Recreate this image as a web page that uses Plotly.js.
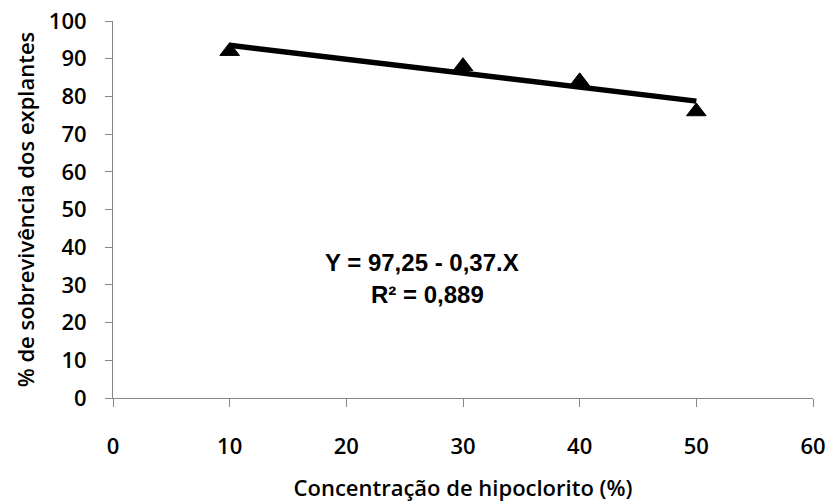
<!DOCTYPE html>
<html>
<head>
<meta charset="utf-8">
<script src="https://cdn.plot.ly/plotly-3.0.1.min.js"></script>
<style>html,body{margin:0;padding:0;background:#fff;}#chart{width:828px;height:502px;}</style>
</head>
<body>
<div id="chart"></div>
<script>
// Data
var concentration = [10, 30, 40, 50];
var survival = [92, 88, 84, 76];
// Fitted trend line (Y = 97,25 - 0,37.X) end points
var trendX = [10, 50];
var trendY = [93.55, 78.75];
var xTicks = [0, 10, 20, 30, 40, 50, 60];
var yTicks = [0, 10, 20, 30, 40, 50, 60, 70, 80, 90, 100];
var equationText = "Y = 97,25 - 0,37.X";
var r2Text = "R² = 0,889";

var tickFont = {family: "Open Sans, Arial, sans-serif", size: 22, color: "#000", weight: 600};
var titleFont = {family: "Open Sans, Arial, sans-serif", size: 22, color: "#000", weight: 600};

var traces = [
  {
    x: concentration, y: survival, type: "scatter", mode: "markers",
    marker: {symbol: "triangle-up", size: 17, color: "#000", line: {color: "#000", width: 1}},
    showlegend: false, hoverinfo: "skip"
  },
  {
    x: trendX, y: trendY, type: "scatter", mode: "lines",
    line: {color: "#000", width: 5.5},
    showlegend: false, hoverinfo: "skip"
  }
];

var layout = {
  width: 828, height: 502,
  margin: {l: 113, r: 15, t: 21, b: 104},
  paper_bgcolor: "#fff", plot_bgcolor: "#fff",
  showlegend: false,
  xaxis: {
    range: [0, 60], tickvals: xTicks, ticktext: xTicks.map(String),
    showgrid: false, zeroline: false,
    showline: true, linecolor: "#868686", linewidth: 1,
    ticks: "outside", ticklen: 8, tickcolor: "#868686", tickwidth: 1,
    ticklabelstandoff: 21,
    tickfont: tickFont,
    title: {text: "Concentração de hipoclorito (%)", font: titleFont, standoff: 22},
    automargin: false, fixedrange: true
  },
  yaxis: {
    range: [0, 100], tickvals: yTicks, ticktext: yTicks.map(String),
    showgrid: false, zeroline: false,
    showline: true, linecolor: "#868686", linewidth: 1,
    ticks: "outside", ticklen: 7, tickcolor: "#868686", tickwidth: 1,
    ticklabelstandoff: 14,
    tickfont: tickFont,
    title: {text: "% de sobrevivência dos explantes", font: titleFont, standoff: 8},
    automargin: false, fixedrange: true
  },
  annotations: [
    {xref: "paper", yref: "paper", x: (422 - 113) / 700, y: (398.3 - 263) / 377.3,
     text: "<b>" + equationText + "</b>", showarrow: false, xanchor: "center", yanchor: "middle",
     font: {family: "Liberation Sans, Arial, sans-serif", size: 24, color: "#000"}},
    {xref: "paper", yref: "paper", x: (427 - 113) / 700, y: (398.3 - 295) / 377.3,
     text: "<b>" + r2Text + "</b>", showarrow: false, xanchor: "center", yanchor: "middle",
     font: {family: "Liberation Sans, Arial, sans-serif", size: 24, color: "#000"}}
  ]
};

Plotly.newPlot("chart", traces, layout, {staticPlot: true, displayModeBar: false});
</script>
</body>
</html>
